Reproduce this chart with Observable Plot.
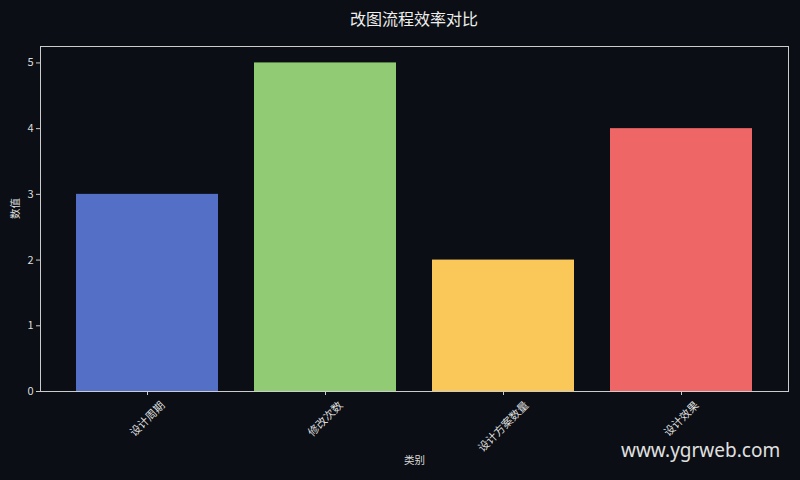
<!DOCTYPE html>
<html><head><meta charset="utf-8">
<script src="https://cdn.jsdelivr.net/npm/d3@7"></script>
<script src="https://cdn.jsdelivr.net/npm/@observablehq/plot@0.6"></script>
<style>
body{margin:0;background:#0b0e14;width:800px;height:480px;overflow:hidden;position:relative;font-family:"Noto Sans CJK SC","Noto Sans",sans-serif}
#title{height:36px;line-height:36px;text-align:center;color:#eeeeee;font-size:16px;padding-left:28px}
#wm{position:absolute;left:621px;top:436px;font-size:19px;color:#e0e0e0;font-family:"Noto Sans",sans-serif;line-height:28px}
</style></head><body>
<div id="title">改图流程效率对比</div>
<div id="chart"></div>
<div id="wm">www.ygrweb.com</div>
<script>
const categories = ["设计周期", "修改次数", "设计方案数量", "设计效果"];
const values = [3, 5, 2, 4];
const colors = ["#5470c6", "#91cc75", "#fac858", "#ee6666"];
const yTicks = [0, 1, 2, 3, 4, 5];
const xLabel = "类别";
const yLabel = "数值";

const data = categories.map((c, i) => ({category: c, value: values[i]}));
const fs = 11;
// rotated labels: bounding box centred on the tick, top just under the axis
const labelMarks = [...new Set(categories.map(c => c.length))].map(len =>
  Plot.text(categories.filter(c => c.length === len), {
    x: d => d, frameAnchor: "bottom", rotate: -45, textAnchor: "middle",
    lineAnchor: "middle", fill: "#dddddd", fontSize: fs,
    dy: 8 + (len * fs + fs) * Math.SQRT1_2 / 2
  })
);

const chart = Plot.plot({
  width: 800,
  height: 444,
  marginTop: 10,
  marginLeft: 40,
  marginRight: 12,
  marginBottom: 89,
  style: {background: "#0b0e14", color: "#dddddd", fontSize: "11px", fontFamily: "'Noto Sans CJK SC', 'Noto Sans', sans-serif"},
  x: {domain: categories, padding: 0.2},
  y: {domain: [0, 5.25]},
  color: {domain: categories, range: colors},
  marks: [
    Plot.barY(data, {x: "category", y: "value", fill: "category"}),
    Plot.frame({stroke: "#cccccc"}),
    Plot.axisY({ticks: yTicks, tickFormat: "d", tickSize: 4, tickPadding: 3, label: null, stroke: "#cccccc", fill: "#dddddd", fontSize: 11}),
    Plot.axisX({tickSize: 4, tickFormat: () => "", label: null, stroke: "#cccccc"}),
    ...labelMarks,
    Plot.text([xLabel], {frameAnchor: "bottom", dy: 72, fill: "#dddddd", fontSize: 10.5}),
    Plot.text([yLabel], {frameAnchor: "left", dx: -25, rotate: -90, fill: "#dddddd", fontSize: 10.5})
  ]
});
document.getElementById("chart").appendChild(chart);
</script>
</body></html>
